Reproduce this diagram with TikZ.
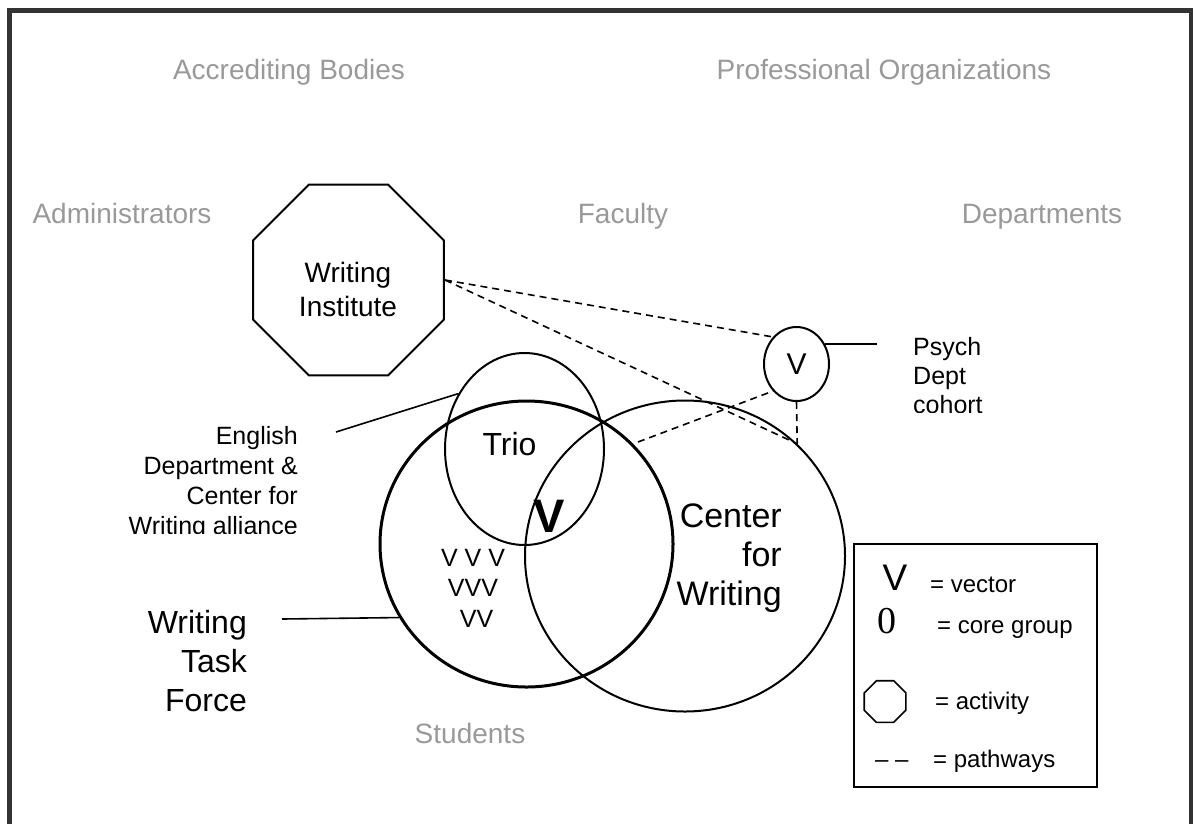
\documentclass[tikz,border=0pt]{standalone}
\usepackage{fontspec}
\setmainfont{Liberation Sans}
\newfontfamily\seriffont{Liberation Serif}
\usetikzlibrary{shapes.geometric}
\definecolor{framegray}{HTML}{333333}
\definecolor{labelgray}{HTML}{999999}
\begin{document}
\begin{tikzpicture}[x=1pt,y=-1pt,
  lbl/.style={text=labelgray, font=\fontsize{28}{34}\selectfont, inner sep=0pt},
  txt/.style={text=black, inner sep=0pt},
  ring/.style={draw, ellipse, line width=2pt, inner sep=0pt},
  octa/.style={draw, regular polygon, regular polygon sides=8, inner sep=0pt},
  pathway/.style={line width=1.6pt, dash pattern=on 7pt off 5pt},
  link/.style={line width=1.6pt},
  legtxt/.style={txt, font=\fontsize{24}{28}\selectfont, anchor=base west}
]
\useasboundingbox (0,0) rectangle (1193,823);
\draw[framegray, line width=5pt] (9.5,900) -- (9.5,10.5) -- (1191.5,10.5) -- (1191.5,900);

% field labels
\node[lbl, anchor=base] (acc) at (289,79) {Accrediting Bodies};
\node[lbl, anchor=base] (prof) at (884,79) {Professional Organizations};
\node[lbl, anchor=base] (adm) at (122,223) {Administrators};
\node[lbl, anchor=base] (fac) at (623,223) {Faculty};
\node[lbl, anchor=base] (dep) at (1042,223) {Departments};
\node[lbl, anchor=base] (stu) at (470,743) {Students};

% writing institute
\node[octa, line width=2pt, minimum size=206.7pt] (wi) at (348.5,280) {};
\node[txt, font=\fontsize{28}{34}\selectfont, align=center, anchor=north] (wit) at (348,262) {Writing\\Institute};

% core groups
\node[ring, minimum width=65pt, minimum height=74pt, font=\fontsize{30}{36}\selectfont] (vc) at (796.5,364) {V};
\node[ring, minimum width=159pt, minimum height=192pt] (trio) at (524.5,449) {};
\node[ring, line width=3pt, minimum width=293pt, minimum height=286pt] (wtf) at (526.5,544) {};
\node[ring, minimum width=320pt, minimum height=311pt] (cfw) at (685,556) {};

\node[txt, font=\fontsize{32}{38}\selectfont, anchor=base] (triot) at (509.5,455) {Trio};
\node[txt, font=\fontsize{47}{56}\selectfont\bfseries, anchor=base] (bv) at (549,532) {V};
\node[txt, font=\fontsize{25}{30.5}\selectfont, align=center, anchor=north] (vs) at (473,549) {V V V\\VVV\\\hspace{7pt}VV};
\node[txt, font=\fontsize{34}{39}\selectfont, align=right, anchor=north east] (cfwt) at (782,503.5) {Center\\for\\Writing};
\node[txt, font=\fontsize{32}{39}\selectfont, align=right, anchor=north east] (wtft) at (247,610) {Writing\\Task\\Force};

\begin{scope}
\clip (0,300) rectangle (330,533);
\node[txt, font=\fontsize{25}{30}\selectfont, align=right, anchor=north east] (eng) at (298,426) {English\\Department \&\\Center for\\Writing alliance};
\end{scope}
\begin{scope}
\clip (880,300) rectangle (1100,412);
\node[txt, font=\fontsize{25}{29}\selectfont, align=left, anchor=north west] (psy) at (913,337) {Psych\\Dept\\cohort};
\end{scope}

% solid leaders
\coordinate (engEnd) at (336,432);
\draw[link] (engEnd) -- (trio.140);
\coordinate (wtfEnd) at (282,619);
\draw[link] (wtfEnd) -- (wtf.210);
\coordinate (psyEnd) at (877,343);
\draw[link] (vc.35) -- (vc.35 -| psyEnd);

% pathways
\coordinate (pwStart) at (638,442);
\draw[pathway] (wi.east) -- (vc.131);
\draw[pathway] (wi.east) -- (cfw.45);
\draw[pathway] (vc.south) -- (cfw.45);
\draw[pathway] (pwStart) -- (vc.229);

% legend
\node[draw, line width=1.6pt, minimum width=243pt, minimum height=243pt, inner sep=0pt] (leg) at (975.5,665.5) {};
\node[txt, font=\fontsize{37}{40}\selectfont, anchor=base] (lv) at (895,590) {V};
\node[legtxt] (lvt) at (930,592) {= vector};
\node[txt, font=\seriffont\fontsize{38}{40}\selectfont, anchor=base] (l0) at (887,633) {0};
\node[legtxt] (l0t) at (937,633) {= core group};
\node[octa, line width=1.6pt, minimum size=45pt] (loct) at (885,701.5) {};
\node[legtxt] (loctt) at (935,709) {= activity};
\node[legtxt] (ldash) at (875,767) {– –};
\node[legtxt] (ldt) at (933,767) {= pathways};
\end{tikzpicture}
\end{document}
